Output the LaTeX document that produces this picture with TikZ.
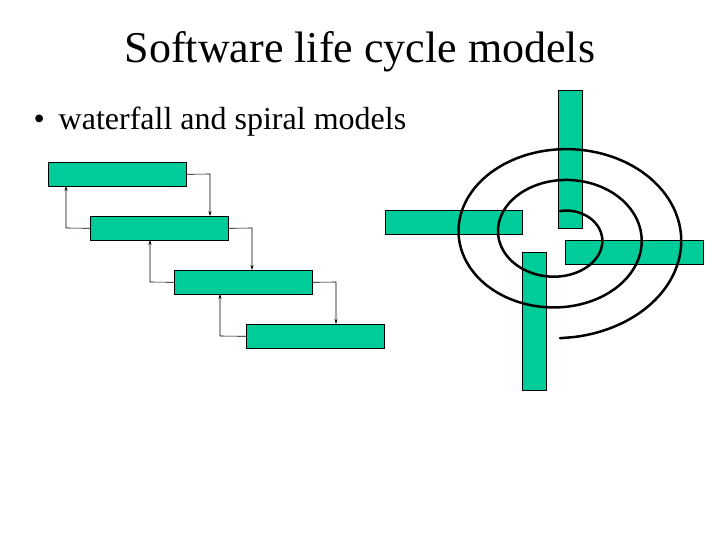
\documentclass[tikz,border=0pt]{standalone}
\usepackage{fontspec}
\setmainfont{Liberation Serif}
\usetikzlibrary{arrows.meta}
\definecolor{sg}{HTML}{00CC99}
\begin{document}
\begin{tikzpicture}[x=1pt,y=-1pt,
  blk/.style={draw=black,fill=sg,line width=0.6pt,inner sep=0,anchor=north west},
  fl/.style={-{Stealth[length=5pt,width=3pt]},line width=0.6pt}]
\useasboundingbox (0,0) rectangle (720,540);
\node (title) at (360,52) {\fontsize{44}{50}\selectfont Software life cycle models};
\node[anchor=west] (bul) at (30,122) {\fontsize{32}{36}\selectfont •\hspace{14pt}waterfall and spiral models};
% waterfall
\node[blk,minimum width=138pt,minimum height=24pt] (w1) at (48,162) {};
\node[blk,minimum width=138pt,minimum height=24pt] (w2) at (90,216) {};
\node[blk,minimum width=138pt,minimum height=24pt] (w3) at (174,270) {};
\node[blk,minimum width=138pt,minimum height=24pt] (w4) at (246,324) {};
\draw[fl] (w1.east) -- (210,174) -- (210,216);
\draw[fl] (w2.west) -- (66,228) -- (66,186);
\draw[fl] (w2.east) -- (252,228) -- (252,270);
\draw[fl] (w3.west) -- (150,282) -- (150,240);
\draw[fl] (w3.east) -- (336,282) -- (336,324);
\draw[fl] (w4.west) -- (220,336) -- (220,294);
% spiral
\node[blk,minimum width=24pt,minimum height=138pt] (s1) at (558,90) {};
\node[blk,minimum width=137pt,minimum height=24pt] (s2) at (385,210) {};
\node[blk,minimum width=138pt,minimum height=24pt] (s3) at (565,240) {};
\node[blk,minimum width=24pt,minimum height=138pt] (s4) at (522,252) {};
\draw[line width=2.5pt,line cap=round] plot[smooth,samples=120,domain=-90:810,variable=\t]
  ({560+(32+0.11*(\t+90))*cos(\t)},{236+0.78*(32+0.11*(\t+90))*sin(\t)});
\end{tikzpicture}
\end{document}
